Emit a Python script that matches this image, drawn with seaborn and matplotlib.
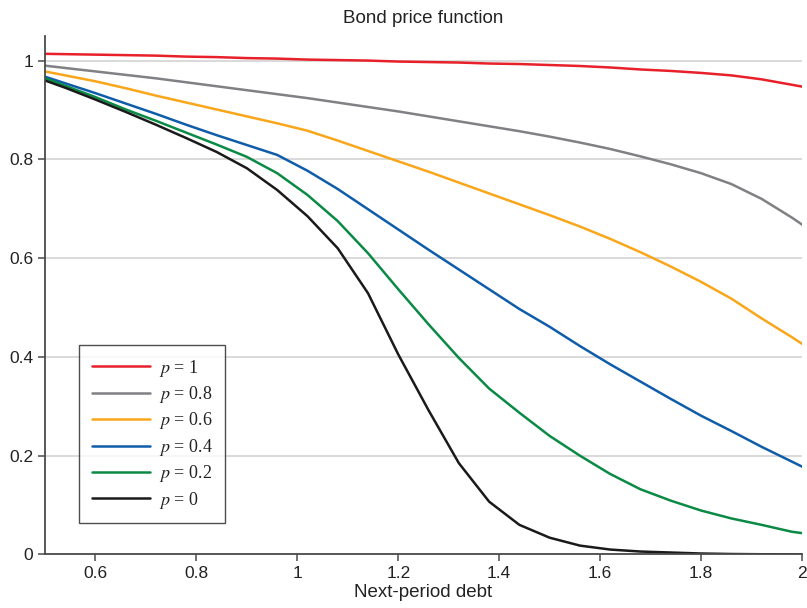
import numpy as np
import pandas as pd
import matplotlib
matplotlib.use("Agg")
import matplotlib.pyplot as plt
import seaborn as sns

# Next-period debt grid (step 0.06)
debt = [0.48, 0.54, 0.60, 0.66, 0.72, 0.78, 0.84, 0.90, 0.96, 1.02, 1.08, 1.14, 1.20, 1.26,
        1.32, 1.38, 1.44, 1.50, 1.56, 1.62, 1.68, 1.74, 1.80, 1.86, 1.92, 1.98, 2.04]

p_1 = [1.014, 1.013, 1.012, 1.011, 1.010, 1.008, 1.007, 1.005, 1.004, 1.002, 1.001, 1.000, 0.998, 0.997,
       0.996, 0.994, 0.993, 0.991, 0.989, 0.986, 0.982, 0.979, 0.975, 0.970, 0.962, 0.951, 0.940]
p_08 = [0.992, 0.985, 0.978, 0.971, 0.964, 0.956, 0.948, 0.940, 0.932, 0.924, 0.915, 0.906, 0.897, 0.887,
        0.877, 0.867, 0.857, 0.846, 0.834, 0.821, 0.806, 0.790, 0.772, 0.750, 0.720, 0.682, 0.640]
p_06 = [0.982, 0.970, 0.958, 0.944, 0.929, 0.915, 0.901, 0.887, 0.873, 0.858, 0.838, 0.817, 0.796, 0.775,
        0.753, 0.731, 0.709, 0.687, 0.664, 0.639, 0.612, 0.583, 0.552, 0.518, 0.478, 0.440, 0.400]
p_04 = [0.974, 0.954, 0.934, 0.913, 0.892, 0.870, 0.849, 0.829, 0.809, 0.777, 0.740, 0.699, 0.658, 0.617,
        0.577, 0.537, 0.497, 0.461, 0.422, 0.385, 0.350, 0.315, 0.281, 0.250, 0.218, 0.188, 0.158]
p_02 = [0.972, 0.949, 0.926, 0.901, 0.878, 0.854, 0.830, 0.805, 0.772, 0.728, 0.675, 0.610, 0.537, 0.466,
        0.398, 0.336, 0.287, 0.240, 0.200, 0.163, 0.132, 0.109, 0.089, 0.073, 0.060, 0.046, 0.038]
p_0 = [0.967, 0.945, 0.921, 0.896, 0.870, 0.843, 0.815, 0.782, 0.738, 0.685, 0.620, 0.529, 0.405, 0.292,
       0.185, 0.107, 0.060, 0.034, 0.018, 0.010, 0.006, 0.004, 0.002, 0.001, 0.0005, 0.0003, 0.0002]

labels = ["$p$ = 1", "$p$ = 0.8", "$p$ = 0.6", "$p$ = 0.4", "$p$ = 0.2", "$p$ = 0"]
series = [p_1, p_08, p_06, p_04, p_02, p_0]
colors = ["#E8202A", "#808085", "#FAA61A", "#0F5DAA", "#0A8A45", "#1A1A1A"]

x_ticks = [0.6, 0.8, 1.0, 1.2, 1.4, 1.6, 1.8, 2.0]
x_ticklabels = ["0.6", "0.8", "1", "1.2", "1.4", "1.6", "1.8", "2"]
y_ticks = [0, 0.2, 0.4, 0.6, 0.8, 1.0]
y_ticklabels = ["0", "0.2", "0.4", "0.6", "0.8", "1"]

sns.set_theme(style="white")
plt.rcParams["font.family"] = ["Liberation Sans", "DejaVu Sans"]
plt.rcParams["mathtext.fontset"] = "stix"

fig = plt.figure(figsize=(8.07, 6.08), dpi=100)
ax = fig.add_axes([0.0558, 0.088, 0.938, 0.853])

for lab, vals, col in zip(labels, series, colors):
    df = pd.DataFrame({"debt": debt, "price": vals})
    sns.lineplot(data=df, x="debt", y="price", color=col, linewidth=1.8, label=lab, ax=ax)

ax.set_xlim(0.5, 2.0)
ax.set_ylim(0, 1.05)
ax.set_xticks(x_ticks)
ax.set_xticklabels(x_ticklabels)
ax.set_yticks(y_ticks)
ax.set_yticklabels(y_ticklabels)
ax.yaxis.grid(True, color="#D0D0D0", linewidth=1.1)
ax.xaxis.grid(False)
ax.set_axisbelow(True)

for s in ["top", "right"]:
    ax.spines[s].set_visible(False)
for s in ["left", "bottom"]:
    ax.spines[s].set_color("#4A4A4A")
    ax.spines[s].set_linewidth(1.3)

ax.tick_params(axis="both", which="major", direction="out", length=5, width=1.1,
               color="#4A4A4A", labelsize=12.5, labelcolor="#222222", bottom=True, left=True)

ax.set_title("Bond price function", fontsize=13.5, color="#222222", pad=9)
ax.set_xlabel("Next-period debt", fontsize=13.5, color="#222222", labelpad=2)
ax.set_ylabel("")

leg = ax.legend(loc="upper left", bbox_to_anchor=(0.045, 0.404), frameon=True, fancybox=False,
                edgecolor="#222222", prop={"family": ["Liberation Serif"], "size": 13},
                handlelength=3.2, handletextpad=0.5,
                labelspacing=0.3, borderpad=0.7, borderaxespad=0.0)
leg.get_frame().set_linewidth(1.0)
for t in leg.get_texts():
    t.set_color("#222222")

fig.savefig("out.png", dpi=100)
